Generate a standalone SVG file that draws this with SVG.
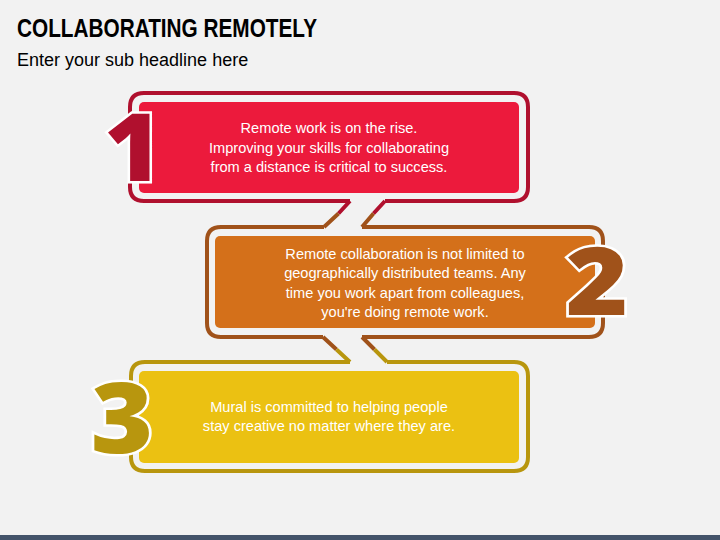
<svg xmlns="http://www.w3.org/2000/svg" width="720" height="540" viewBox="0 0 720 540">
<style>
.title{font-family:"Liberation Sans",Arial,sans-serif;font-weight:bold;font-size:25px;fill:#000}
.sub{font-family:"Liberation Sans",Arial,sans-serif;font-size:18px;fill:#000}
.body{font-family:"Liberation Sans",Arial,sans-serif;font-size:14.6px;fill:#fff;text-anchor:middle}
.num{font-family:"Open Sans","Noto Sans",sans-serif;font-weight:800;font-size:97px;text-anchor:middle;stroke:#fff;stroke-width:5;paint-order:stroke;stroke-linejoin:miter}
.ol{fill:none;stroke-width:4;stroke-linejoin:round}
</style>
<rect width="720" height="540" fill="#F2F2F2"/>
<rect x="0" y="535" width="720" height="5" fill="#44546A"/>
<text class="title" x="17" y="37" textLength="300" lengthAdjust="spacingAndGlyphs">COLLABORATING REMOTELY</text>
<text class="sub" x="17" y="66">Enter your sub headline here</text>

<g id="connectors">
<path class="ol" stroke="#B0102E" d="M385,201 L373.5,213.5 M350,201 L338.5,213.5"/>
<path class="ol" stroke="#A0521A" d="M373.5,213.5 L362,227 M338.5,213.5 L324,227"/>
<path class="ol" stroke="#A0521A" d="M362,337 L374.5,349.5 M323,337 L336.5,349.5"/>
<path class="ol" stroke="#B8960E" d="M374.5,349.5 L387,362 M336.5,349.5 L350,362"/>
</g>

<g id="node1">
<path class="ol" stroke="#B0102E" d="M350,201 H144 Q130,201 130,187 V107 Q130,93 144,93 H514 Q528,93 528,107 V187 Q528,201 514,201 H385"/>
<rect x="139" y="102" width="380" height="91" rx="5" fill="#EC1A3C"/>
<text class="num" x="0" y="0" fill="#B0102E" transform="translate(133,181) scale(1.02,0.97)">1</text>
<text class="body" x="329" y="133">Remote work is on the rise.</text>
<text class="body" x="329" y="152.5">Improving your skills for collaborating</text>
<text class="body" x="329" y="172">from a distance is critical to success.</text>
</g>

<g id="node2">
<path class="ol" stroke="#A0521A" d="M362,227 H589 Q603,227 603,241 V323 Q603,337 589,337 H362 M323,337 H221 Q207,337 207,323 V241 Q207,227 221,227 H324"/>
<rect x="215" y="236" width="380" height="92" rx="5" fill="#D4701A"/>
<text class="num" x="0" y="0" fill="#A0521A" transform="translate(597,315) scale(1.1,0.97)">2</text>
<text class="body" x="405" y="259">Remote collaboration is not limited to</text>
<text class="body" x="405" y="278.3">geographically distributed teams. Any</text>
<text class="body" x="405" y="297.6">time you work apart from colleagues,</text>
<text class="body" x="405" y="317">you're doing remote work.</text>
</g>

<g id="node3">
<path class="ol" stroke="#B8960E" d="M387,362 H514 Q528,362 528,376 V457 Q528,471 514,471 H145 Q131,471 131,457 V376 Q131,362 145,362 H350"/>
<rect x="139" y="371" width="380" height="92" rx="5" fill="#EBC112"/>
<text class="num" x="0" y="0" fill="#B8960E" transform="translate(122,453) scale(1.1,1)">3</text>
<text class="body" x="329" y="412">Mural is committed to helping people</text>
<text class="body" x="329" y="431">stay creative no matter where they are.</text>
</g>
</svg>
